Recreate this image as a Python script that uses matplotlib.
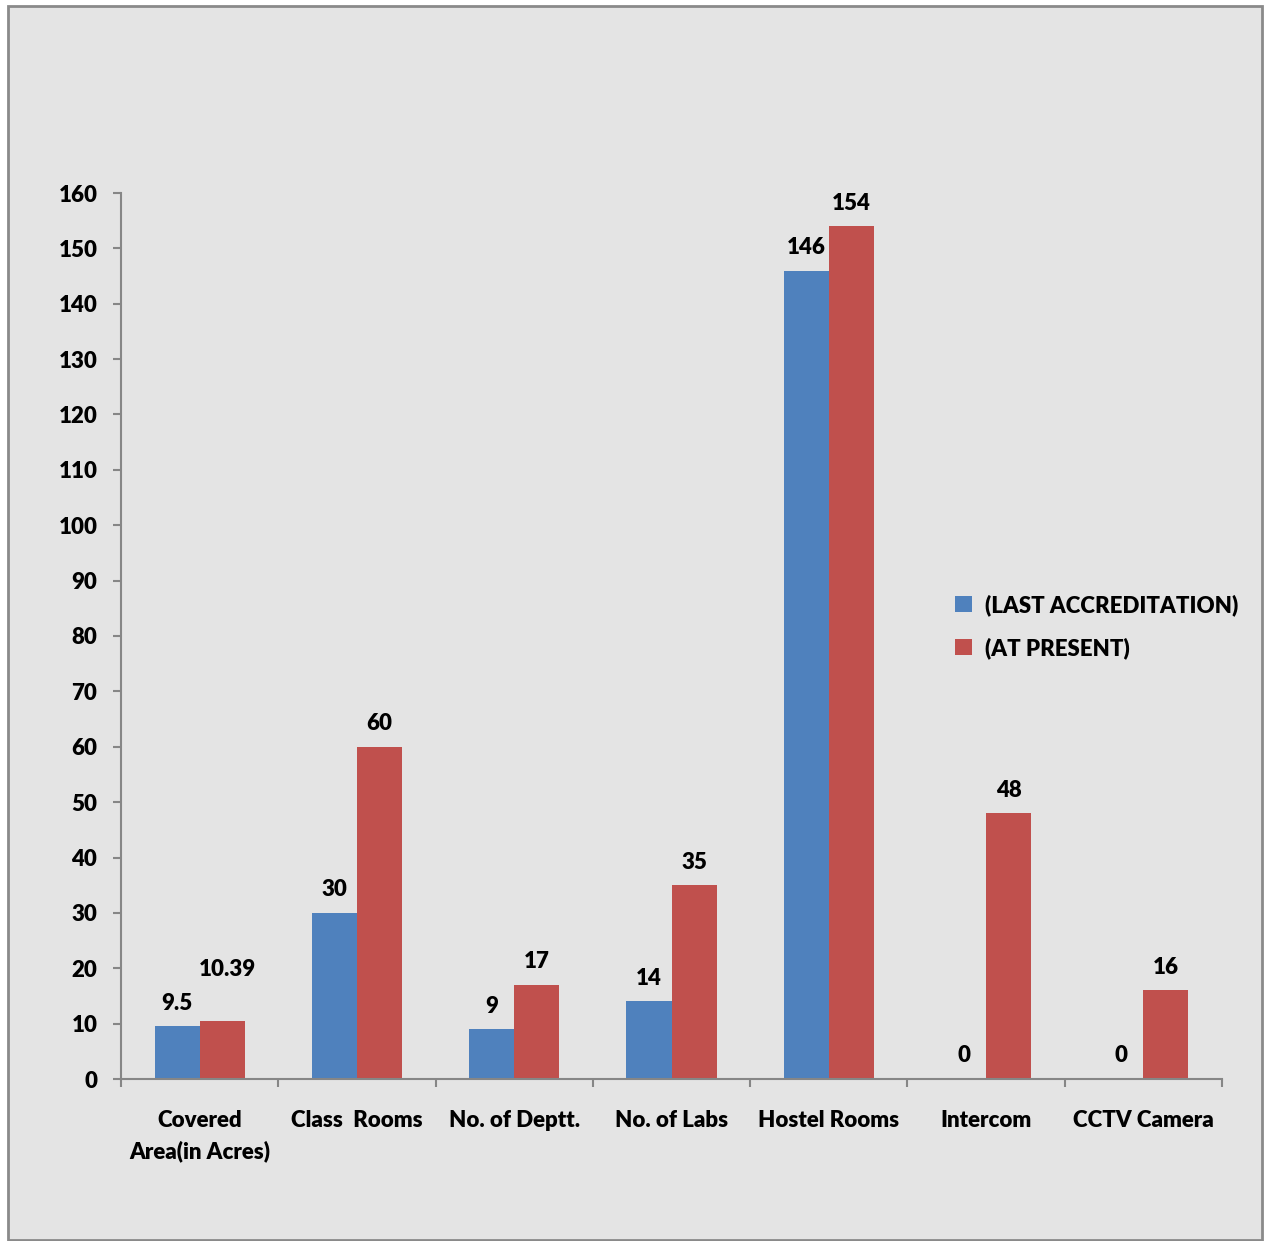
import matplotlib
matplotlib.use("Agg")
import matplotlib.pyplot as plt
from matplotlib.patches import Rectangle
import numpy as np

categories = ["Covered\nArea(in Acres)", "Class  Rooms", "No. of Deptt.", "No. of Labs",
              "Hostel Rooms", "Intercom", "CCTV Camera"]
last_accreditation = [9.5, 30, 9, 14, 146, 0, 0]
at_present = [10.39, 60, 17, 35, 154, 48, 16]
last_labels = ["9.5", "30", "9", "14", "146", "0", "0"]
present_labels = ["10.39", "60", "17", "35", "154", "48", "16"]
series_names = ["(LAST ACCREDITATION)", "(AT PRESENT)"]
yticks = list(range(0, 161, 10))

BLUE = "#4F81BD"
RED = "#C0504D"
FONT = "Lato"
WEIGHT = "heavy"

plt.rcParams['font.family'] = [FONT, 'DejaVu Sans']
plt.rcParams['font.weight'] = WEIGHT

W, H = 1265, 1241
fig = plt.figure(figsize=(W / 100, H / 100), dpi=100)
fig.patch.set_facecolor("white")

# chart area frame
fig.patches.append(Rectangle((8 / W, 1 - 1240 / H), (1262 - 8) / W, (1240 - 6) / H,
                             transform=fig.transFigure, facecolor="#e4e4e4",
                             edgecolor="#8a8a8a", linewidth=2, zorder=-5))

ax = fig.add_axes([121 / W, 1 - 1079 / H, (1222 - 121) / W, (1079 - 193) / H])
ax.set_facecolor("none")

x = np.arange(len(categories))
bw = 0.287
ax.bar(x - bw / 2, last_accreditation, width=bw, color=BLUE, label=series_names[0], zorder=2)
ax.bar(x + bw / 2, at_present, width=bw, color=RED, label=series_names[1], zorder=2)

fs = 16
for i in range(len(categories)):
    ax.annotate(last_labels[i], (x[i] - bw / 2, last_accreditation[i]), xytext=(0, 9),
                textcoords="offset points", ha="center", va="bottom", fontsize=fs,
                fontweight=WEIGHT)
    dy = 9
    dx = 0
    if present_labels[i] == "10.39":
        dy = 30
        dx = 4
    ax.annotate(present_labels[i], (x[i] + bw / 2, at_present[i]), xytext=(dx, dy),
                textcoords="offset points", ha="center", va="bottom", fontsize=fs,
                fontweight=WEIGHT)

ax.set_xlim(-0.5, len(categories) - 0.5)
ax.set_ylim(0, 160)
ax.set_yticks(yticks)
ax.set_yticklabels([str(v) for v in yticks], fontsize=fs, fontweight=WEIGHT)
ax.set_xticks(x)
ax.set_xticklabels(categories, fontsize=fs, fontweight=WEIGHT, linespacing=1.55)
ax.tick_params(axis="x", length=0, pad=22)
ax.set_xticks(np.arange(-0.5, len(categories), 1), minor=True)
ax.tick_params(axis="x", which="minor", length=6, color="#868686", width=1.5, direction="out")
ax.tick_params(axis="y", length=6, color="#868686", width=1.5, direction="out", pad=11)

for s in ["top", "right"]:
    ax.spines[s].set_visible(False)
for s in ["left", "bottom"]:
    ax.spines[s].set_color("#868686")
    ax.spines[s].set_linewidth(1.5)

leg = ax.legend(loc="upper left", bbox_to_anchor=(825 / (1222 - 121), (1079 - 585) / (1079 - 193)),
                frameon=False, fontsize=fs, handlelength=0.75, handleheight=0.75,
                handletextpad=0.6, labelspacing=0.95, borderaxespad=0)
for t in leg.get_texts():
    t.set_fontweight(WEIGHT)

fig.savefig("out.png", dpi=100, facecolor="white")
